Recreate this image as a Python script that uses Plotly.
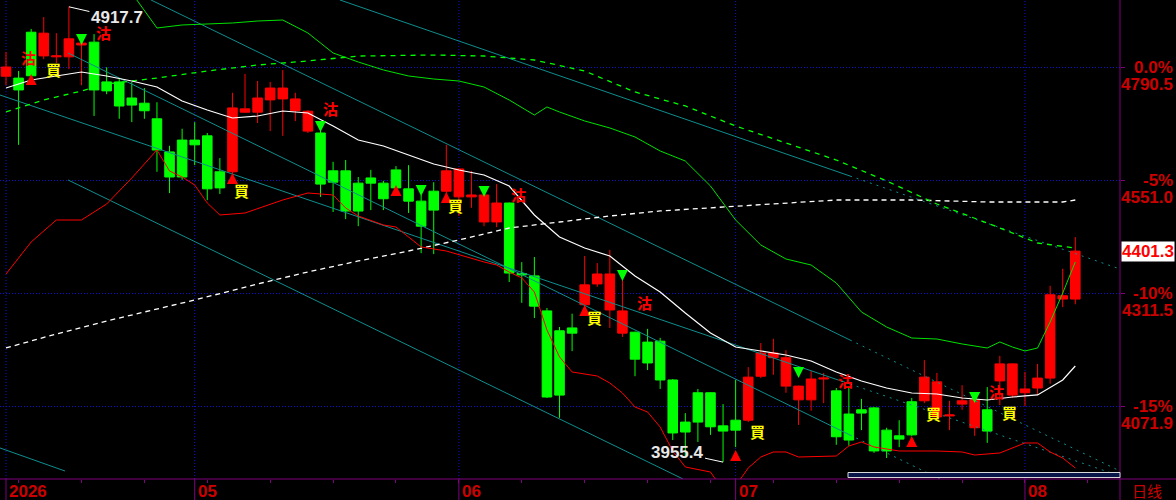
import plotly.graph_objects as go

# ---------------------------------------------------------------- data
idx = list(range(86))
opens = [4771, 4767, 4864, 4814, 4812, 4812, 4837, 4843, 4759, 4759,
         4725, 4714, 4681, 4611, 4636, 4636, 4645, 4569, 4569, 4695,
         4695, 4721, 4723, 4698, 4655, 4651, 4571, 4571, 4545, 4556,
         4545, 4573, 4533, 4507, 4528, 4528, 4516, 4516, 4463, 4463,
         4503, 4354, 4349, 4275, 4233, 4239, 4288, 4332, 4277, 4228,
         4230, 4209, 4211, 4129, 4040, 4102, 4102, 4032, 4044, 4044,
         4137, 4176, 4116, 4087, 4087, 4131, 4106, 4057, 4066, 4070,
         4023, 4011, 4083, 4085, 4051, 4053, 4078, 4028, 4066, 4127,
         4097, 4102, 4112, 4133, 4300, 4300]
highs = [4822, 4782, 4871, 4896, 4862, 4917.7, 4854, 4860, 4790, 4765,
         4759, 4746, 4716, 4624, 4660, 4674, 4651, 4598, 4736, 4776,
         4761, 4759, 4784, 4736, 4699, 4676, 4590, 4594, 4558, 4573,
         4550, 4581, 4583, 4520, 4547, 4626, 4576, 4571, 4521, 4543,
         4504, 4378, 4389, 4281, 4241, 4269, 4391, 4376, 4404, 4347,
         4231, 4237, 4218, 4131, 4059, 4110, 4103, 4078, 4129, 4156,
         4207, 4216, 4192, 4117, 4148, 4144, 4112, 4114, 4089, 4072,
         4028, 4044, 4091, 4171, 4144, 4085, 4118, 4088, 4114, 4180,
         4164, 4146, 4163, 4328, 4364, 4431]
lows = [4752, 4626, 4770, 4807, 4799, 4786, 4752, 4687, 4733, 4681,
        4674, 4681, 4569, 4524, 4552, 4583, 4509, 4522, 4558, 4694,
        4672, 4655, 4645, 4676, 4651, 4516, 4484, 4469, 4454, 4488,
        4488, 4530, 4482, 4397, 4395, 4509, 4476, 4493, 4454, 4452,
        4336, 4292, 4260, 4091, 4049, 4190, 4273, 4326, 4239, 4220,
        4137, 4150, 4110, 4002, 3966, 3998, 4013, 3955.4, 3987, 4040,
        4133, 4140, 4102, 4034, 4064, 4080, 3992, 3990, 4023, 3975,
        3964, 3987, 4011, 4080, 4047, 4023, 4066, 4011, 3996, 4076,
        4091, 4074, 4097, 4121, 4283, 4289]
closes = [4790.5, 4742, 4772, 4862, 4814, 4850, 4841, 4742, 4740, 4708,
          4710, 4698, 4615, 4558, 4558, 4626, 4533, 4535, 4704, 4702,
          4725, 4746, 4746, 4723, 4697, 4543, 4547, 4486, 4486, 4545,
          4512, 4535, 4507, 4454, 4488, 4571, 4575, 4520, 4520, 4503,
          4355, 4351, 4285, 4093, 4097, 4228, 4330, 4353, 4353, 4275,
          4173, 4165, 4129, 4017, 4019, 4040, 4030, 4021, 4023, 4135,
          4186, 4186, 4176, 4116, 4131, 4133, 4009, 4002, 4059, 3979,
          3979, 4004, 4013, 4135, 4125, 4055, 4085, 4087, 4021, 4163,
          4163, 4110, 4133, 4309, 4307, 4401.3]

# moving averages / bands (index, value)
ma_x = [0, 2, 4, 6, 8, 10, 12, 14, 16, 18, 20, 22, 24, 26, 28, 30, 32, 34, 36, 38, 40, 42,
        44, 46, 48, 50, 52, 54, 56, 58, 60, 62, 64, 66, 68, 70, 72, 74, 76, 78, 80, 82, 84, 85]
ma_y = [4746.1, 4763.0, 4771.5, 4779.9, 4771.5, 4760.9, 4748.2, 4718.6, 4699.6, 4682.7,
        4686.9, 4697.5, 4693.3, 4665.8, 4636.2, 4623.5, 4604.5, 4585.5, 4572.8, 4562.2,
        4539.0, 4477.7, 4431.2, 4407.9, 4391.0, 4348.8, 4315.0, 4270.6, 4228.3, 4198.7,
        4190.3, 4181.8, 4169.1, 4145.9, 4126.9, 4112.1, 4101.5, 4099.4, 4090.9, 4086.7,
        4093.0, 4097.3, 4129.0, 4158.5]

up_x = [10, 12, 14, 16, 18, 20, 22, 24, 26, 28, 30, 32, 34, 36, 38, 40, 42, 43, 44, 46,
        48, 50, 52, 54, 56, 58, 60, 62, 64, 66, 68, 70, 72, 74, 76, 78, 79, 80, 81, 82,
        83, 84, 85]
up_y = [4946.9, 4872.9, 4879.3, 4881.4, 4883.5, 4887.7, 4889.8, 4862.4, 4820.1, 4801.1,
        4784.2, 4771.5, 4765.1, 4760.9, 4748.2, 4720.8, 4689.0, 4706.0, 4695.4, 4676.4,
        4661.6, 4642.6, 4613.0, 4591.8, 4539.0, 4467.1, 4414.3, 4384.7, 4372.0, 4334.0,
        4272.7, 4241.0, 4217.7, 4215.6, 4205.1, 4196.6, 4209.3, 4198.7, 4190.3, 4196.6,
        4251.6, 4312.8, 4378.4]

lo_x = [0, 2, 4, 6, 8, 10, 12, 13, 14, 15, 16, 17, 19, 22, 24, 26, 27, 28, 30, 31, 33,
        35, 38, 39, 40, 41, 42, 43, 44, 45, 47, 48, 49, 50, 51, 52, 53, 54, 56, 57, 58,
        59, 60, 61, 62, 63, 66, 67, 68, 69, 71, 74, 76, 77, 79, 80, 81, 82, 83, 84, 85]
lo_y = [4353.0, 4420.6, 4467.1, 4467.1, 4500.9, 4555.9, 4615.1, 4570.7, 4558.0, 4541.1,
        4503.1, 4477.7, 4481.9, 4509.4, 4524.2, 4520.0, 4492.5, 4475.6, 4456.6, 4452.3,
        4410.1, 4401.6, 4378.4, 4372.0, 4357.2, 4344.6, 4315.0, 4234.7, 4177.6, 4145.9,
        4137.4, 4122.6, 4101.5, 4071.9, 4061.3, 4029.6, 3978.9, 3945.1, 3934.5, 3896.5,
        3904.9, 3943.0, 3966.2, 3976.8, 3976.8, 3966.2, 3968.3, 3989.5, 3997.9, 3987.4,
        3978.9, 3978.9, 3976.8, 3970.4, 3974.7, 3985.3, 3995.8, 3995.8, 3976.8, 3964.1,
        3943.0]

long_x = [0, 4, 8, 12, 15, 20, 24, 28, 32, 36, 40, 44, 48, 52, 56, 60, 66, 72, 78, 84, 85]
long_y = [4196.6, 4226.2, 4253.7, 4279.0, 4298.0, 4331.9, 4357.2, 4380.5, 4401.6, 4424.9,
          4450.2, 4462.9, 4475.6, 4486.2, 4492.5, 4498.8, 4509.4, 4509.4, 4505.2, 4505.2,
          4509.4]

mid_x = [0, 3, 6, 8, 12, 16, 20, 24, 28, 34, 38, 42, 46, 50, 54, 58, 62, 66, 70, 74, 78, 82, 85]
mid_y = [4695.4, 4720.8, 4739.8, 4754.6, 4767.2, 4782.0, 4794.7, 4803.2, 4813.7, 4815.8,
         4813.7, 4805.3, 4782.0, 4737.7, 4708.1, 4665.8, 4629.9, 4593.9, 4549.6, 4500.9,
         4460.8, 4418.5, 4407.9]

# trend channel lines: start, break (solid -> dotted), end
chan_x = [[26.55, 67.09, 88.55], [11.53, 67.09, 88.55], [-0.48, 67.09, 88.55],
          [4.93, 67.09, 74.25], [4.93, 53.82], [-0.48, 4.69]]
chan_y = [[4932.1, 4560.1, 4363.6], [4932.1, 4213.5, 3936.6], [4731.3, 4120.5, 3926.1],
          [4820.1, 4012.7, 3919.7], [4551.7, 3919.7], [3985.3, 3936.6]]

# signals
buy_idx = [3, 18, 35, 46, 59, 73, 79]
buy_px = [4784.2, 4530.5, 4498.8, 4260.0, 4019.1, 4057.1, 4061.3]
sell_idx = [1, 7, 25, 40, 50, 66, 78]
sell_px = [4811.6, 4862.4, 4703.8, 4520.0, 4293.8, 4128.9, 4103.6]
arr_up_idx = [2, 18, 31, 35, 46, 58, 72]
arr_up_px = [4767.3, 4558.0, 4532.6, 4517.9, 4279.0, 3972.5, 4002.2]
arr_dn_idx = [6, 25, 33, 38, 49, 63, 77]
arr_dn_px = [4845.4, 4661.6, 4526.3, 4524.2, 4346.7, 4141.7, 4088.8]

# axes
grid_prices = [4790.5, 4551.0, 4311.5, 4071.9]
grid_pct = ["0.0%", "-5%", "-10%", "-15%"]
grid_lbl = ["4790.5", "4551.0", "4311.5", "4071.9"]
month_idx = [0, 15, 36, 58, 81]
month_lbl = ["2026", "05", "06", "07", "08"]
small_ticks = list(range(1, 87, 5))

RED_TXT = "#cc0000"
TEAL = "#0e8e8e"
PURPLE = "#800080"
BLUE = "#1010d0"
FONT = "Liberation Sans, Arial"

fig = go.Figure()

fig.add_trace(go.Candlestick(
    x=idx, open=opens, high=highs, low=lows, close=closes,
    increasing=dict(line=dict(color="#ff0000", width=1), fillcolor="#ff0000"),
    decreasing=dict(line=dict(color="#00ff00", width=1), fillcolor="#00ff00"),
    whiskerwidth=0, hoverinfo="skip", showlegend=False))

# channel lines
for cx, cy in zip(chan_x, chan_y):
    fig.add_trace(go.Scatter(x=cx[:2], y=cy[:2], mode="lines",
                             line=dict(color=TEAL, width=1), hoverinfo="skip", showlegend=False))
    if len(cx) == 3:
        fig.add_trace(go.Scatter(x=cx[1:], y=cy[1:], mode="lines",
                                 line=dict(color=TEAL, width=1, dash="2px,5px"),
                                 hoverinfo="skip", showlegend=False))

fig.add_trace(go.Scatter(x=long_x, y=long_y, mode="lines",
                         line=dict(color="#ffffff", width=1.3, dash="5px,4px"),
                         hoverinfo="skip", showlegend=False))
fig.add_trace(go.Scatter(x=mid_x, y=mid_y, mode="lines",
                         line=dict(color="#00ff00", width=1.3, dash="5px,5px"),
                         hoverinfo="skip", showlegend=False))
fig.add_trace(go.Scatter(x=up_x, y=up_y, mode="lines",
                         line=dict(color="#00e000", width=1), hoverinfo="skip", showlegend=False))
fig.add_trace(go.Scatter(x=lo_x, y=lo_y, mode="lines",
                         line=dict(color="#ff0000", width=1), hoverinfo="skip", showlegend=False))
fig.add_trace(go.Scatter(x=ma_x, y=ma_y, mode="lines",
                         line=dict(color="#ffffff", width=1.2), hoverinfo="skip", showlegend=False))

ann = []
# signal arrows (arrow tip + short stem)
for i, p in zip(arr_up_idx, arr_up_px):
    ann.append(dict(x=i, y=p, xref="x", yref="y", text="", showarrow=True, yshift=4,
                    ax=0, ay=9, arrowhead=2, arrowsize=1.1, arrowwidth=2, arrowcolor="#ff0000"))
for i, p in zip(arr_dn_idx, arr_dn_px):
    ann.append(dict(x=i, y=p, xref="x", yref="y", text="", showarrow=True, yshift=-4,
                    ax=0, ay=-9, arrowhead=2, arrowsize=1.1, arrowwidth=2, arrowcolor="#00ff00"))

for i, p in zip(buy_idx, buy_px):
    ann.append(dict(x=i, y=p, xref="x", yref="y", text="買", showarrow=False, xanchor="left",
                    font=dict(family="Noto Sans CJK TC", size=15, color="#ffff00", weight=700)))
for i, p in zip(sell_idx, sell_px):
    ann.append(dict(x=i, y=p, xref="x", yref="y", text="沽", showarrow=False, xanchor="left",
                    font=dict(family="Noto Sans CJK TC", size=15, color="#ff0000", weight=700)))

# high / low marks
ann.append(dict(x=5, y=4917.7, xref="x", yref="y", text="4917.7", showarrow=True,
                ax=48, ay=11, arrowhead=0, arrowwidth=1, arrowcolor="#ffffff",
                font=dict(family=FONT, size=17, color="#e8e8e8", weight=700)))
ann.append(dict(x=57, y=3955.4, xref="x", yref="y", text="3955.4", showarrow=True,
                ax=-46, ay=-10, arrowhead=0, arrowwidth=1, arrowcolor="#ffffff",
                font=dict(family=FONT, size=17, color="#e8e8e8", weight=700)))

# right axis labels
for p, pc, lb in zip(grid_prices, grid_pct, grid_lbl):
    ann.append(dict(x=1175 / 1120, y=p, xref="paper", yref="y", text=pc, showarrow=False,
                    xanchor="right", yanchor="middle",
                    font=dict(family=FONT, size=17, color=RED_TXT, weight=700)))
    ann.append(dict(x=1175 / 1120, y=p, xref="paper", yref="y", text=lb, showarrow=False,
                    xanchor="right", yanchor="middle", yshift=-17,
                    font=dict(family=FONT, size=17, color=RED_TXT, weight=700)))
ann.append(dict(x=1175 / 1120, y=closes[-1], xref="paper", yref="y", text="4401.3",
                showarrow=False, xanchor="right", yanchor="middle", bgcolor="#ffffff",
                borderpad=0, font=dict(family=FONT, size=17, color="#ff0000", weight=700)))

# month labels
for i, lb in zip(month_idx, month_lbl):
    ann.append(dict(x=i, y=-12 / 479, xref="x", yref="paper", text=lb, showarrow=False,
                    xanchor="left", yanchor="middle", xshift=1,
                    font=dict(family=FONT, size=17, color=RED_TXT, weight=700)))
ann.append(dict(x=1147 / 1120, y=-11 / 479, xref="paper", yref="paper", text="日线",
                showarrow=False, xanchor="center", yanchor="middle",
                font=dict(family="Noto Sans CJK SC", size=15, color=RED_TXT)))

shapes = []
for i in month_idx:
    shapes.append(dict(type="line", xref="x", yref="paper", x0=i, x1=i, y0=0, y1=1,
                       line=dict(color=BLUE, width=1, dash="1px,2px"), layer="below"))
    shapes.append(dict(type="line", xref="x", yref="paper", x0=i, x1=i, y0=0, y1=-21 / 479,
                       line=dict(color=PURPLE, width=1)))
shapes.append(dict(type="line", xref="paper", yref="paper", x0=0, x1=1176 / 1120, y0=0, y1=0,
                   line=dict(color=PURPLE, width=1)))
shapes.append(dict(type="line", xref="paper", yref="paper", x0=1, x1=1, y0=-21 / 479, y1=1,
                   line=dict(color=PURPLE, width=1)))
shapes.append(dict(type="rect", xref="paper", yref="paper", x0=848 / 1120, x1=1,
                   y0=1.5 / 479, y1=6.5 / 479, fillcolor="#08164a",
                   line=dict(color="#d8d8d8", width=1)))

fig.update_layout(
    width=1176, height=500,
    margin=dict(l=0, r=56, t=0, b=21),
    paper_bgcolor="#000000", plot_bgcolor="#000000",
    showlegend=False, boxgap=0.24, boxgroupgap=0,
    annotations=ann, shapes=shapes,
    xaxis=dict(range=[-6 / 12.58, 1114 / 12.58], rangeslider=dict(visible=False),
               showgrid=False, zeroline=False, showline=False,
               tickvals=small_ticks, ticks="outside", ticklen=3, tickcolor=PURPLE,
               showticklabels=False),
    yaxis=dict(range=[3919.7, 4932.1], side="right", tickvals=grid_prices,
               showgrid=True, gridcolor=BLUE, griddash="1px,2px", gridwidth=1,
               ticks="outside", ticklen=4, tickcolor=PURPLE, showticklabels=False,
               zeroline=False, showline=False),
)

# page body margin off so the 1176x500 figure fills the window
fig.write_html("out.html", config={"displayModeBar": False},
               post_script="document.body.style.margin='0';document.body.style.overflow='hidden';")
